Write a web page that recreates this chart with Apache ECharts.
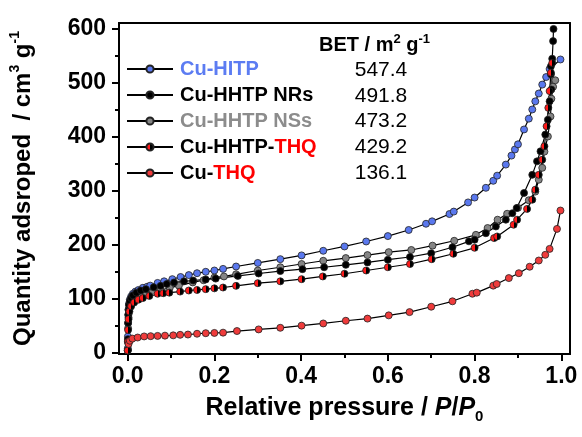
<!DOCTYPE html>
<html>
<head>
<meta charset="utf-8">
<script src="https://cdn.jsdelivr.net/npm/echarts@6/dist/echarts.min.js"></script>
<style>
  html, body { margin: 0; padding: 0; background: #fff; }
  #chart { width: 582px; height: 437px; }
</style>
</head>
<body>
<div id="chart"></div>
<script>
// isotherm data: [P/P0, quantity adsorbed]
const cuHITP = [[0.0003,8],[0.0006,30],[0.001,55],[0.0015,70],[0.002,80],[0.003,90],[0.005,98],[0.008,104],[0.012,109],[0.018,113],[0.025,116],[0.035,120],[0.045,122],[0.052,124],[0.069,129],[0.084,132],[0.103,136],[0.122,140],[0.141,143.5],[0.16,147],[0.18,149.6],[0.2,152],[0.22,155],[0.25,159.4],[0.3,166],[0.352,173],[0.401,180],[0.451,188.5],[0.5,196.5],[0.55,205.7],[0.6,215.7],[0.648,227],[0.688,238.5],[0.702,243],[0.742,256.5],[0.752,261],[0.785,278],[0.8,287],[0.826,305],[0.843,318],[0.852,327.5],[0.872,348],[0.885,364.6],[0.893,376],[0.9,385.5],[0.914,413],[0.925,433],[0.933,450],[0.94,465],[0.948,479.5],[0.956,496],[0.965,510],[0.973,525],[0.998,542.5]];
const cuHHTPNRs = [[0.0002,5],[0.0005,25],[0.001,55],[0.0015,70],[0.002,79],[0.003,88],[0.005,95],[0.008,101],[0.012,106],[0.02,111],[0.03,115],[0.042,117.5],[0.06,121],[0.076,123.6],[0.09,127],[0.107,130],[0.13,132],[0.151,133.5],[0.18,135.5],[0.203,137],[0.254,142],[0.302,146.5],[0.352,151],[0.403,154.5],[0.453,158],[0.503,162.5],[0.553,167],[0.6,172],[0.651,177],[0.7,184],[0.749,195],[0.787,206],[0.8,209],[0.826,221],[0.849,233.5],[0.872,246],[0.887,258],[0.897,267.6],[0.914,295.5],[0.933,329],[0.944,354],[0.952,372.6],[0.963,403.5],[0.969,431],[0.973,465],[0.977,487],[0.976,515],[0.976,530],[0.979,544],[0.981,576.5],[0.982,599]];
const cuHHTPNSs = [[0.0002,4],[0.0005,20],[0.001,45],[0.002,65],[0.004,80],[0.008,90],[0.015,96],[0.023,99],[0.032,103],[0.042,107],[0.058,112],[0.076,116],[0.097,120],[0.118,124],[0.15,130],[0.175,134],[0.2,139],[0.222,141],[0.25,145],[0.3,152],[0.352,158],[0.401,164],[0.451,170],[0.503,175],[0.553,180.5],[0.602,186],[0.654,190],[0.703,198],[0.753,207],[0.803,218],[0.83,230.6],[0.853,246],[0.875,257],[0.9,268],[0.925,282],[0.94,298],[0.948,320],[0.956,342],[0.961,372],[0.969,400],[0.975,437],[0.977,470],[0.981,492],[0.986,504]];
const cuHHTPTHQ = [[0.0002,4],[0.0005,20],[0.001,42],[0.002,62],[0.004,76],[0.008,86],[0.015,93],[0.025,98],[0.035,101],[0.05,105],[0.069,109],[0.082,110],[0.096,111],[0.121,113],[0.141,115],[0.16,116],[0.18,117.5],[0.2,119],[0.22,120.5],[0.25,123.6],[0.3,128.6],[0.352,132],[0.401,136],[0.45,141],[0.5,146],[0.55,152],[0.6,158],[0.651,164],[0.701,173],[0.751,183],[0.8,194],[0.845,212],[0.852,215],[0.89,236.7],[0.898,246],[0.921,266],[0.933,283],[0.94,301.6],[0.948,329],[0.956,357],[0.961,382],[0.966,419],[0.97,453],[0.973,484],[0.976,518],[0.979,536]];
const cuTHQ = [[0.002,16],[0.005,22],[0.011,26],[0.023,28],[0.038,30],[0.053,30.5],[0.069,31],[0.086,31.5],[0.105,32],[0.121,33],[0.139,33.5],[0.16,35],[0.18,36],[0.2,36.5],[0.22,37],[0.252,40],[0.302,43],[0.352,46],[0.401,50],[0.451,54],[0.503,59],[0.553,63],[0.602,69],[0.65,75],[0.7,85],[0.749,95],[0.795,109],[0.805,111],[0.843,124],[0.851,127],[0.879,138],[0.902,147],[0.927,159],[0.948,170.5],[0.963,181],[0.973,192],[0.99,229],[0.998,263]];

const sampleNames = ['Cu-HITP', 'Cu-HHTP NRs', 'Cu-HHTP NSs', 'Cu-HHTP-THQ', 'Cu-THQ'];
const betValues = ['547.4', '491.8', '473.2', '429.2', '136.1'];
const xMajorTicks = [0, 0.2, 0.4, 0.6, 0.8, 1.0];
const xMinorTicks = [0.1, 0.3, 0.5, 0.7, 0.9];
const yMajorTicks = [0, 100, 200, 300, 400, 500, 600];
const yMinorTicks = [50, 150, 250, 350, 450, 550];

const FONT = 'Liberation Sans, Arial, sans-serif';
const halfRed = new echarts.graphic.LinearGradient(0, 0, 1, 0, [
  { offset: 0, color: '#ff1a1a' }, { offset: 0.5, color: '#ff1a1a' },
  { offset: 0.5, color: '#000' }, { offset: 1, color: '#000' }
]);
const markerColors = ['#5a78ee', '#000000', '#858585', halfRed, '#ef3b3b'];
const seriesData = [cuHITP, cuHHTPNRs, cuHHTPNSs, cuHHTPTHQ, cuTHQ];

const legendRich = {
  k: { color: '#000', fontWeight: 'bold', fontSize: 20, fontFamily: FONT, lineHeight: 20 },
  b: { color: '#5c7cf2', fontWeight: 'bold', fontSize: 20, fontFamily: FONT, lineHeight: 20 },
  g: { color: '#8c8c8c', fontWeight: 'bold', fontSize: 20, fontFamily: FONT, lineHeight: 20 },
  r: { color: '#ff0000', fontWeight: 'bold', fontSize: 20, fontFamily: FONT, lineHeight: 20 }
};
const legendLabels = {
  'Cu-HITP': '{b|Cu-HITP}',
  'Cu-HHTP NRs': '{k|Cu-HHTP NRs}',
  'Cu-HHTP NSs': '{g|Cu-HHTP NSs}',
  'Cu-HHTP-THQ': '{k|Cu-HHTP-}{r|THQ}',
  'Cu-THQ': '{k|Cu-}{r|THQ}'
};

const axisLineStyle = { color: '#000', width: 2 };
const labelStyle = { color: '#000', fontSize: 23, fontWeight: 'bold', fontFamily: FONT };

function frameAxis(pos, min, max) {
  return {
    type: 'value', position: pos, min: min, max: max,
    axisLine: { show: true, onZero: false, lineStyle: axisLineStyle },
    axisTick: { show: false }, axisLabel: { show: false }, splitLine: { show: false }
  };
}
function minorAxis(pos, min, max, ticks) {
  return {
    type: 'value', position: pos, min: min, max: max,
    axisLine: { show: true, onZero: false, lineStyle: axisLineStyle },
    axisTick: { show: true, length: 4, lineStyle: { color: '#000', width: 2 }, customValues: ticks },
    axisLabel: { show: false }, splitLine: { show: false }
  };
}

const chart = echarts.init(document.getElementById('chart'));
chart.setOption({
  animation: false,
  backgroundColor: '#fff',
  grid: { left: 116, right: 12, top: 23, bottom: 83 },
  xAxis: [
    {
      type: 'value', position: 'bottom', min: -0.02, max: 1.02,
      name: '{a|Relative pressure / }{i|P}{a|/}{i|P}{sub|0}',
      nameLocation: 'middle', nameGap: 38,
      nameTextStyle: {
        rich: {
          a: { fontSize: 25, fontWeight: 'bold', fontFamily: FONT, color: '#000', lineHeight: 32 },
          i: { fontSize: 25, fontWeight: 'bold', fontStyle: 'italic', fontFamily: FONT, color: '#000', lineHeight: 32 },
          sub: { fontSize: 15, fontWeight: 'bold', fontFamily: FONT, color: '#000', verticalAlign: 'bottom', lineHeight: 14 }
        }
      },
      axisLine: { show: true, onZero: false, lineStyle: axisLineStyle },
      axisTick: { show: true, length: 7, lineStyle: { color: '#000', width: 2 }, customValues: xMajorTicks },
      axisLabel: Object.assign({ margin: 11, customValues: xMajorTicks, formatter: v => v.toFixed(1) }, labelStyle),
      splitLine: { show: false }
    },
    minorAxis('bottom', -0.02, 1.02, xMinorTicks),
    frameAxis('top', -0.02, 1.02)
  ],
  yAxis: [
    {
      type: 'value', position: 'left', min: -2.5, max: 610,
      name: '{a|Quantity adsroped  / cm}{s|3}{a| g}{s|-1}',
      nameLocation: 'middle', nameGap: 81,
      nameTextStyle: {
        rich: {
          a: { fontSize: 24, fontWeight: 'bold', fontFamily: FONT, color: '#000', lineHeight: 30 },
          s: { fontSize: 14, fontWeight: 'bold', fontFamily: FONT, color: '#000', verticalAlign: 'top', lineHeight: 13 }
        }
      },
      axisLine: { show: true, onZero: false, lineStyle: axisLineStyle },
      axisTick: { show: true, length: 7, lineStyle: { color: '#000', width: 2 }, customValues: yMajorTicks },
      axisLabel: Object.assign({ margin: 13, customValues: yMajorTicks }, labelStyle),
      splitLine: { show: false }
    },
    minorAxis('left', -2.5, 610, yMinorTicks),
    frameAxis('right', -2.5, 610)
  ],
  legend: {
    orient: 'vertical', left: 126, top: 59, padding: 0,
    itemWidth: 46, itemHeight: 9, itemGap: 6,
    data: sampleNames,
    formatter: name => legendLabels[name],
    textStyle: { rich: legendRich, padding: [0, 0, 0, 2] }
  },
  graphic: [
    {
      type: 'text', x: 319, y: 45,
      style: {
        text: '{h|BET / m}{s|2}{h| g}{s|-1}',
        verticalAlign: 'middle',
        rich: {
          h: { fontSize: 20, fontWeight: 'bold', fontFamily: FONT, fill: '#000', lineHeight: 24 },
          s: { fontSize: 13, fontWeight: 'bold', fontFamily: FONT, fill: '#000', verticalAlign: 'top', lineHeight: 12 }
        }
      }
    }
  ].concat(betValues.map((v, i) => ({
    type: 'text', x: 381, y: 70 + 25.8 * i,
    style: { text: v, align: 'center', verticalAlign: 'middle', fontSize: 21, fontFamily: FONT, fill: '#000' }
  }))),
  series: [2, 0, 1, 3, 4].map(i => ({
    name: sampleNames[i],
    type: 'line',
    data: seriesData[i],
    symbol: 'circle',
    symbolSize: 7,
    showSymbol: true,
    lineStyle: { color: '#000', width: 1.2 },
    itemStyle: { color: markerColors[i], borderColor: '#222', borderWidth: 0.8 },
    emphasis: { disabled: true },
    z: 2
  }))
});
</script>
</body>
</html>
